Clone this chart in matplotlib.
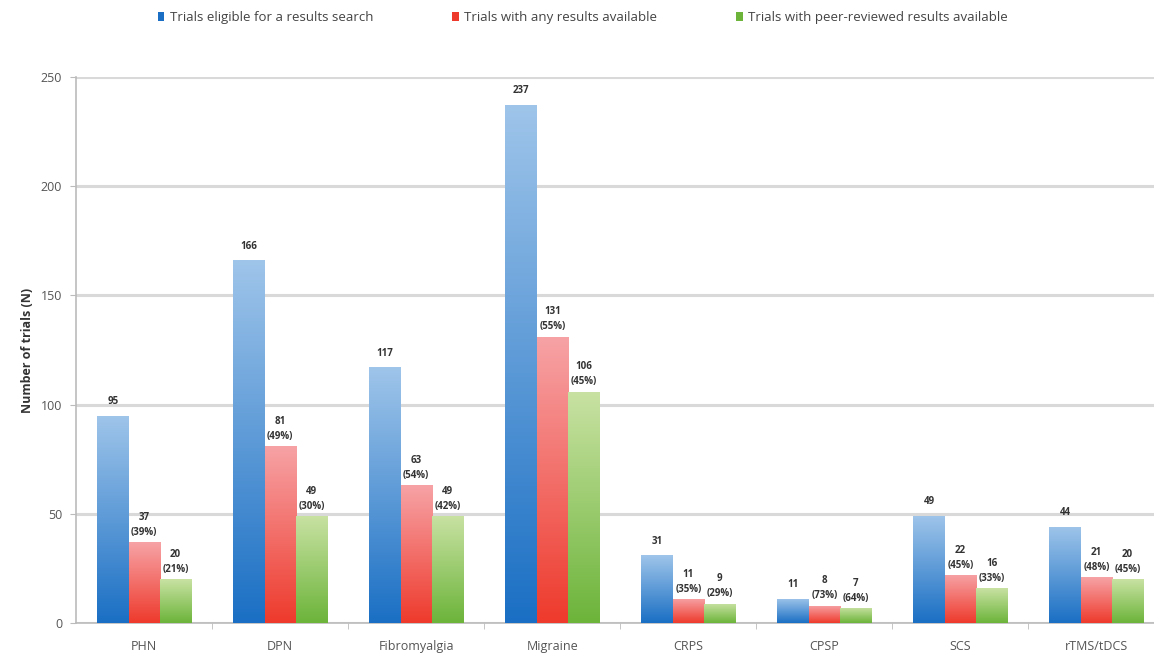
import numpy as np
import matplotlib.pyplot as plt
from matplotlib.colors import LinearSegmentedColormap
from matplotlib.patches import Patch

categories = ['PHN', 'DPN', 'Fibromyalgia', 'Migraine', 'CRPS', 'CPSP', 'SCS', 'rTMS/tDCS']
eligible = [95, 166, 117, 237, 31, 11, 49, 44]
any_results = [37, 81, 63, 131, 11, 8, 22, 21]
any_pct = ['39%', '49%', '54%', '55%', '35%', '73%', '45%', '48%']
peer_results = [20, 49, 49, 106, 9, 7, 16, 20]
peer_pct = ['21%', '30%', '42%', '45%', '29%', '64%', '33%', '45%']
series_names = ['Trials eligible for a results search',
                'Trials with any results available',
                'Trials with peer-reviewed results available']

plt.rcParams['font.family'] = ['Open Sans', 'DejaVu Sans']

fig = plt.figure(figsize=(11.54, 6.56), dpi=100)
ax = fig.add_axes([0.066, 0.050, 0.943, 0.833])

x = np.arange(len(categories))
w = 0.23
# (bottom colour, top colour)
grads = [('#1a6fc4', '#9fc5ea'), ('#ee3a2c', '#f7a3a6'), ('#6cb43a', '#c9e2a3')]
series = [eligible, any_results, peer_results]

for i, (vals, (c0, c1)) in enumerate(zip(series, grads)):
    cmap = LinearSegmentedColormap.from_list('g%d' % i, [c0, c1])
    bars = ax.bar(x + (i - 1) * w, vals, w, color=c1, edgecolor='none',
                  label=series_names[i], zorder=3)
    for b in bars:
        bx, by = b.get_x(), b.get_y()
        bw, bh = b.get_width(), b.get_height()
        grad = np.linspace(0, 1, 256).reshape(-1, 1)
        im = ax.imshow(grad, cmap=cmap, origin='lower', aspect='auto',
                       extent=[bx, bx + bw, by, by + bh], zorder=3.5)
        im.set_clip_path(b)

ax.set_xlim(-0.5, len(categories) - 0.5)
ax.set_ylim(0, 250)

# value labels
for j in range(len(categories)):
    ax.text(x[j] - w, eligible[j] + 4, str(eligible[j]), ha='center', va='bottom',
            fontsize=7, fontweight='bold', color='#333333', zorder=5)
    ax.text(x[j], any_results[j] + 2, '%d\n(%s)' % (any_results[j], any_pct[j]),
            ha='center', va='bottom', fontsize=7, fontweight='bold', color='#333333',
            linespacing=1.5, zorder=5)
    ax.text(x[j] + w, peer_results[j] + 2, '%d\n(%s)' % (peer_results[j], peer_pct[j]),
            ha='center', va='bottom', fontsize=7, fontweight='bold', color='#333333',
            linespacing=1.5, zorder=5)

ax.set_yticks(np.arange(0, 251, 50))
ax.yaxis.grid(True, color='#d9d9d9', linewidth=2.2, zorder=0)
ax.set_axisbelow(True)
ax.set_xticks(x)
ax.set_xticklabels(categories)
ax.set_xticks(np.arange(0.5, len(categories) - 0.5, 1), minor=True)
ax.tick_params(axis='x', which='major', length=0, pad=12, labelsize=9, labelcolor='#555555')
ax.tick_params(axis='x', which='minor', length=4, color='#bbbbbb')
ax.tick_params(axis='y', length=4, color='#bbbbbb', labelsize=9, labelcolor='#555555', pad=6)
ax.set_ylabel('Number of trials (N)', fontsize=9, fontweight='bold', color='#333333', labelpad=5)

for s in ['top', 'right']:
    ax.spines[s].set_visible(False)
ax.spines['left'].set_color('#bbbbbb')
ax.spines['bottom'].set_color('#bbbbbb')
ax.spines['left'].set_linewidth(1.2)
ax.spines['bottom'].set_linewidth(1.2)

handles = [Patch(facecolor=c0, edgecolor='none') for c0, c1 in grads]
fig.legend(handles, series_names, loc='center', bbox_to_anchor=(0.505, 0.973), ncol=3,
           frameon=False, fontsize=9.5, handlelength=0.5, handleheight=0.7,
           handletextpad=0.4, columnspacing=6.0, labelcolor='#444444')

fig.savefig('out.png', dpi=100)
